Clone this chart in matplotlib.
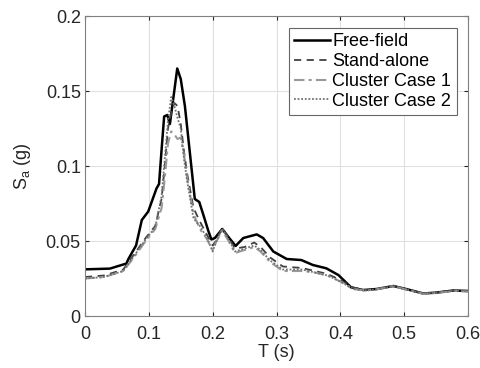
import matplotlib.pyplot as plt

# response spectra
t_free = [0.0, 0.039, 0.065, 0.068, 0.08, 0.089, 0.099, 0.112, 0.116, 0.12, 0.124, 0.129,
          0.133, 0.138, 0.1445, 0.15, 0.1565, 0.165, 0.172, 0.179, 0.185, 0.193, 0.198,
          0.2035, 0.215, 0.224, 0.236, 0.248, 0.269, 0.279, 0.295, 0.316, 0.339, 0.357,
          0.378, 0.397, 0.417, 0.436, 0.457, 0.483, 0.503, 0.53, 0.55, 0.577, 0.6]
sa_free = [0.0311, 0.0316, 0.035, 0.038, 0.047, 0.064, 0.0696, 0.085, 0.088, 0.111, 0.133,
           0.134, 0.128, 0.144, 0.165, 0.158, 0.14, 0.106, 0.078, 0.076, 0.068, 0.057, 0.051,
           0.052, 0.058, 0.053, 0.0467, 0.052, 0.0544, 0.052, 0.043, 0.038, 0.0373, 0.034,
           0.0318, 0.0273, 0.019, 0.0173, 0.018, 0.020, 0.018, 0.015, 0.0156, 0.017, 0.0167]

t_other = [0.0, 0.03, 0.06, 0.08, 0.095, 0.11, 0.12, 0.125, 0.13, 0.135, 0.14, 0.145, 0.15,
           0.155, 0.16, 0.17, 0.18, 0.19, 0.2, 0.205, 0.215, 0.225, 0.235, 0.25, 0.265, 0.275,
           0.29, 0.31, 0.34, 0.36, 0.38, 0.4, 0.42, 0.44, 0.46, 0.483, 0.5, 0.53, 0.55, 0.58, 0.6]
sa_alone = [0.026, 0.027, 0.031, 0.043, 0.052, 0.060, 0.078, 0.100, 0.125, 0.135, 0.142, 0.140,
            0.128, 0.110, 0.095, 0.072, 0.063, 0.055, 0.047, 0.050, 0.059, 0.052, 0.045, 0.046,
            0.049, 0.046, 0.039, 0.033, 0.032, 0.030, 0.028, 0.024, 0.019, 0.0173, 0.018, 0.020,
            0.018, 0.015, 0.0156, 0.017, 0.0167]
sa_case1 = [0.025, 0.026, 0.030, 0.041, 0.050, 0.058, 0.072, 0.092, 0.115, 0.123, 0.121, 0.118,
            0.119, 0.108, 0.092, 0.068, 0.058, 0.052, 0.044, 0.049, 0.057, 0.050, 0.042, 0.044,
            0.046, 0.043, 0.036, 0.030, 0.030, 0.029, 0.027, 0.023, 0.018, 0.017, 0.018, 0.020,
            0.018, 0.0148, 0.0153, 0.0168, 0.0162]
sa_case2 = [0.025, 0.026, 0.030, 0.042, 0.051, 0.059, 0.080, 0.105, 0.130, 0.146, 0.140, 0.132,
            0.125, 0.105, 0.090, 0.065, 0.060, 0.053, 0.043, 0.049, 0.058, 0.051, 0.043, 0.045,
            0.047, 0.044, 0.037, 0.031, 0.031, 0.029, 0.027, 0.023, 0.018, 0.017, 0.018, 0.020,
            0.018, 0.015, 0.0155, 0.017, 0.0165]

x_ticks = [0, 0.1, 0.2, 0.3, 0.4, 0.5, 0.6]
y_ticks = [0, 0.05, 0.1, 0.15, 0.2]

plt.rcParams["font.family"] = ["Liberation Sans", "DejaVu Sans"]
plt.rcParams["font.size"] = 13

fig = plt.figure(figsize=(4.81, 3.68), dpi=100)
ax = fig.add_axes([0.1767, 0.1413, 0.7963, 0.8152])

ax.plot(t_free, sa_free, color="black", lw=1.8, label="Free-field")
ax.plot(t_other, sa_alone, color="0.25", lw=1.3, ls=(0, (4, 3)), label="Stand-alone")
ax.plot(t_other, sa_case1, color="0.6", lw=1.5, ls=(0, (5, 2, 1.5, 2)), label="Cluster Case 1")
ax.plot(t_other, sa_case2, color="0.45", lw=1.3, ls=(0, (1, 1)), label="Cluster Case 2")

ax.set_xlim(0, 0.6)
ax.set_ylim(0, 0.2)
ax.set_xticks(x_ticks)
ax.set_xticklabels(["0", "0.1", "0.2", "0.3", "0.4", "0.5", "0.6"])
ax.set_yticks(y_ticks)
ax.set_yticklabels(["0", "0.05", "0.1", "0.15", "0.2"])
ax.tick_params(direction="in", length=3, colors="0.15", labelcolor="0.15", top=True, right=True, pad=3)
ax.tick_params(axis="x", pad=7)
ax.grid(color="0.88", lw=0.8)
ax.set_axisbelow(True)
for s in ax.spines.values():
    s.set_color("0.5")
    s.set_linewidth(0.8)

ax.set_xlabel("T (s)", color="0.15", labelpad=1)
ax.set_ylabel("S$_{\\mathregular{a}}$ (g)", color="0.15", labelpad=9)

leg = ax.legend(loc="upper right", bbox_to_anchor=(0.97, 0.96), fancybox=False,
                framealpha=1, edgecolor="0.4", handlelength=2.0, handletextpad=0.1,
                borderpad=0.3, labelspacing=0.15, borderaxespad=0)
leg.get_frame().set_linewidth(0.8)

fig.savefig("out.png", dpi=100)
